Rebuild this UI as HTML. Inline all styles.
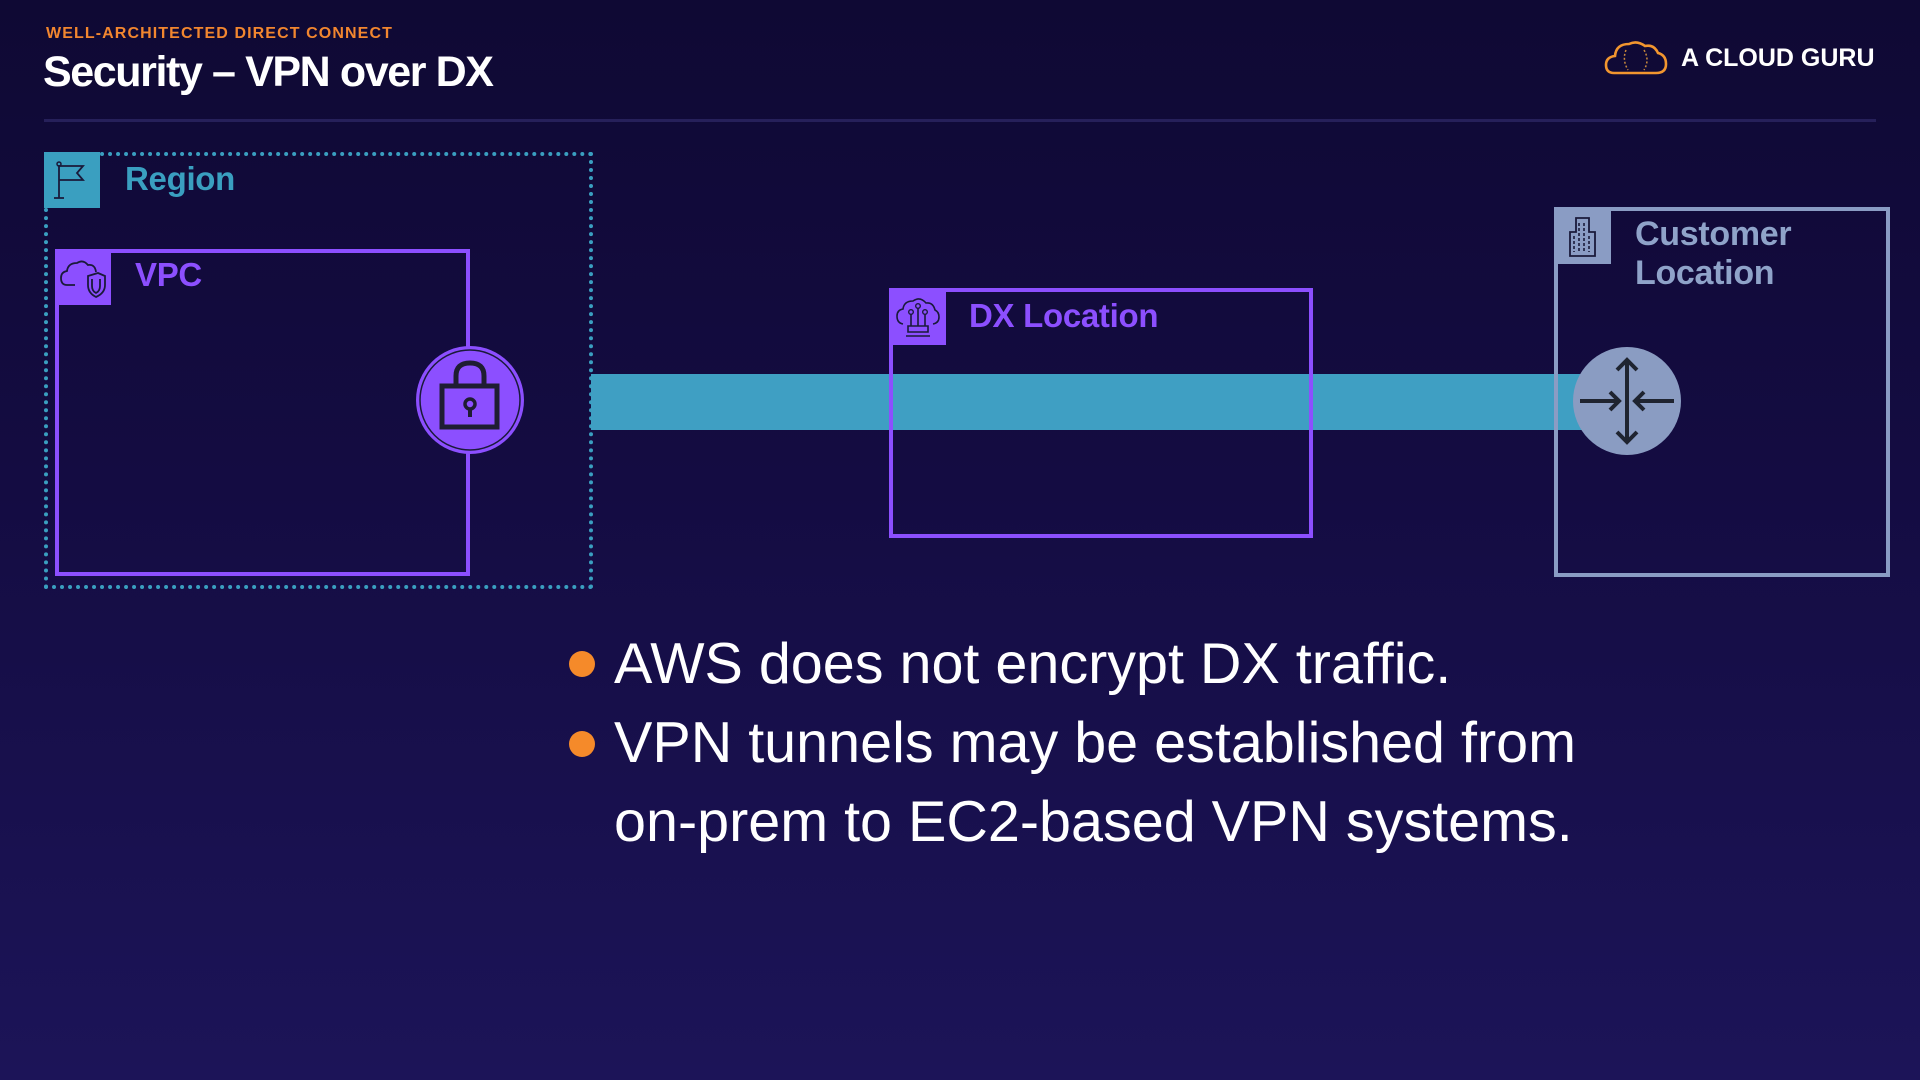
<!DOCTYPE html>
<html><head><meta charset="utf-8"><style>
html,body{margin:0;padding:0}
body{width:1920px;height:1080px;position:relative;overflow:hidden;font-family:"Liberation Sans",sans-serif;background:linear-gradient(180deg,#0f0934 0%,#140c42 45%,#1c1458 100%)}
.a{position:absolute}
.lbl{position:absolute;font-weight:bold;font-size:33px;letter-spacing:-0.3px}
.bul{position:absolute;left:614px;color:#fff;font-size:57.5px;line-height:79px}
.dot{position:absolute;left:569px;width:26px;height:26px;border-radius:50%;background:#f58a2a}
</style></head><body>
<div class="a" style="left:46px;top:25px;color:#f2862f;font-weight:bold;font-size:16px;letter-spacing:1.1px">WELL-ARCHITECTED DIRECT CONNECT</div>
<div class="a" style="left:43px;top:48px;color:#fff;font-weight:bold;font-size:43px;letter-spacing:-1.4px">Security – VPN over DX</div>
<svg class="a" style="left:1604px;top:38px" width="64" height="38" viewBox="0 0 64 38"><path d="M10 35 Q2 35 2 27 Q2 19 11 18 Q12 6 25 6 Q33 2 41 8 Q50 6 54 15 Q62 17 62 26 Q62 35 52 35 Z" fill="none" stroke="#f2962f" stroke-width="2.6"/><path d="M22 12 Q18 22 24 32 M40 12 Q46 22 40 32" fill="none" stroke="#c98a3c" stroke-width="1.5" stroke-dasharray="2 2"/></svg>
<div class="a" style="left:1681px;top:44px;color:#fff;font-weight:bold;font-size:25px;letter-spacing:0px">A CLOUD GURU</div>
<div class="a" style="left:44px;top:119px;width:1832px;height:3px;background:#26205a"></div>

<!-- Region -->
<div class="a" style="left:44px;top:152px;width:541px;height:429px;border:4px dotted #3a9fc0"></div>
<div class="a" style="left:44px;top:152px;width:56px;height:56px;background:#3a9fc0"></div>
<svg class="a" style="left:44px;top:152px" width="56" height="56"><path d="M15 13 V46 M10 46 H20 M15 14 H39 L33 21 L39 28 H15" fill="none" stroke="#1a1a3a" stroke-width="1.8"/><circle cx="15" cy="12" r="2" fill="none" stroke="#1a1a3a" stroke-width="1.5"/></svg>
<div class="lbl" style="left:125px;top:160px;color:#3a9fc0">Region</div>

<!-- VPC -->
<div class="a" style="left:55px;top:249px;width:407px;height:319px;border:4px solid #8c4fff"></div>
<div class="a" style="left:55px;top:249px;width:56px;height:56px;background:#8c4fff"></div>
<svg class="a" style="left:55px;top:249px" width="56" height="56"><path d="M20 36 H12 Q6 36 6 29 Q6 23 12 22 Q13 14 22 14 Q28 10 33 16 Q40 15 41 23" fill="none" stroke="#1a1a3a" stroke-width="1.8"/><path d="M33 27 L43 24 L50 27 V36 Q50 44 41 48 Q33 44 33 36 Z M37 30 V37 Q37 42 41 44 Q45 42 45 37 V30" fill="none" stroke="#1a1a3a" stroke-width="1.8"/></svg>
<div class="lbl" style="left:135px;top:256px;color:#8c4fff">VPC</div>

<!-- bar -->
<div class="a" style="left:591px;top:374px;width:1000px;height:56px;background:#3f9fc3"></div>

<!-- lock -->
<svg class="a" style="left:414px;top:344px" width="112" height="112"><circle cx="56" cy="56" r="54" fill="#8c4fff"/><circle cx="56" cy="56" r="50" fill="none" stroke="#1a1a3a" stroke-width="1.5"/><path d="M42 43 V32 Q42 19 56 19 Q70 19 70 32 V43" fill="none" stroke="#1f1d33" stroke-width="5"/><rect x="28" y="42" width="55" height="41" fill="none" stroke="#1f1d33" stroke-width="5"/><circle cx="56" cy="60" r="5" fill="none" stroke="#1f1d33" stroke-width="3.5"/><path d="M56 64 V73" stroke="#1f1d33" stroke-width="4"/></svg>

<!-- DX -->
<div class="a" style="left:889px;top:288px;width:416px;height:242px;border:4px solid #8c4fff"></div>
<div class="a" style="left:889px;top:288px;width:57px;height:57px;background:#8c4fff"></div>
<svg class="a" style="left:889px;top:288px" width="57" height="57"><path d="M14 36 Q8 35 8 28 Q8 22 14 21 Q15 13 24 13 Q31 8 37 15 Q44 14 46 22 Q50 24 50 29 Q50 35 44 36" fill="none" stroke="#1a1a3a" stroke-width="1.6"/><path d="M22 26 V38 M29 20 V38 M36 26 V38 M19 38 H39 V44 H19 Z M17 48 H41" fill="none" stroke="#1a1a3a" stroke-width="1.6"/><circle cx="22" cy="24" r="2.3" fill="none" stroke="#1a1a3a" stroke-width="1.4"/><circle cx="29" cy="18" r="2.3" fill="none" stroke="#1a1a3a" stroke-width="1.4"/><circle cx="36" cy="24" r="2.3" fill="none" stroke="#1a1a3a" stroke-width="1.4"/></svg>
<div class="lbl" style="left:969px;top:297px;color:#8c4fff">DX Location</div>

<!-- Customer -->
<div class="a" style="left:1554px;top:207px;width:328px;height:362px;border:4px solid #8a9cc4"></div>
<div class="a" style="left:1554px;top:207px;width:57px;height:57px;background:#8a9cc4"></div>
<svg class="a" style="left:1554px;top:207px" width="57" height="57"><path d="M16 49 V25 H22 V11 H35 V25 H41 V49 Z" fill="none" stroke="#1a1a3a" stroke-width="1.8"/><path d="M20 29 V45 M25 16 V45 M30 16 V45 M35 29 V45" stroke="#1a1a3a" stroke-width="1.6" stroke-dasharray="3 2"/></svg>
<div class="lbl" style="left:1635px;top:215px;color:#8fa3c9;line-height:39px;font-size:34px">Customer<br>Location</div>

<!-- router -->
<svg class="a" style="left:1573px;top:347px" width="110" height="110"><circle cx="54" cy="54" r="54" fill="#8a9cc2"/><g stroke="#1f2430" stroke-width="4" fill="none"><path d="M54 13 V95 M44 23 L54 13 L64 23 M44 85 L54 95 L64 85"/><path d="M7 54 H46 M37 45 L46 54 L37 63 M101 54 H62 M71 45 L62 54 L71 63"/></g></svg>

<div class="dot" style="left:569px;top:651px"></div>
<div class="dot" style="left:569px;top:731px"></div>
<div class="bul" style="top:625px">AWS does not encrypt DX traffic.</div>
<div class="bul" style="top:704px">VPN tunnels may be established from<br>on-prem to EC2-based VPN systems.</div>
</body></html>
